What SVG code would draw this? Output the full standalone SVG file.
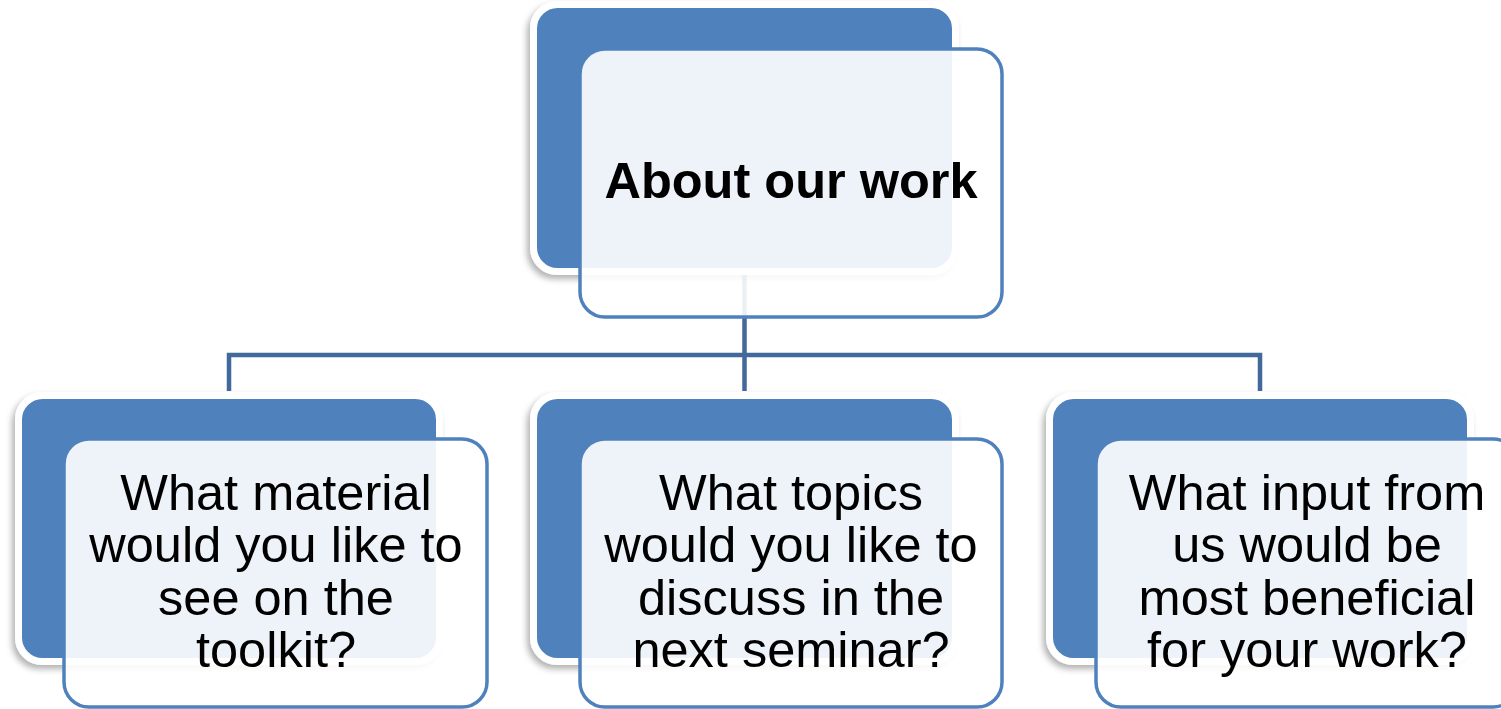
<svg xmlns="http://www.w3.org/2000/svg" width="1501" height="709" viewBox="0 0 1501 709">
  <defs>
    <filter id="sh" x="-10%" y="-10%" width="120%" height="125%">
      <feDropShadow dx="-3" dy="4" stdDeviation="3" flood-color="#000" flood-opacity="0.3"/>
    </filter>
    <style>
      .back{fill:#4F81BD;stroke:#FFFFFF;stroke-width:7;filter:url(#sh)}
      .front{fill:#FFFFFF;fill-opacity:0.9;stroke:#4F81BD;stroke-width:3.5}
      .conn{fill:none;stroke:#41699A;stroke-width:4.5}
      .t{font-family:"Liberation Sans",Arial,sans-serif;font-size:50.5px;fill:#000;text-anchor:middle}
      .tb{font-weight:bold}
    </style>
  </defs>
  <rect width="1501" height="709" fill="#FFFFFF"/>
  <g id="connectors">
    <path class="conn" d="M744.5 272 V357"/>
    <path class="conn" d="M229 391 V355 H1260 V391"/>
    <path class="conn" d="M744.5 355 V391"/>
  </g>
  <g id="node-top">
    <rect class="back" x="533.5" y="4.5" width="422" height="267" rx="24"/>
    <rect class="front" x="580" y="49" width="422" height="268" rx="25"/>
    <text class="t tb" x="791" y="198">About our work</text>
  </g>
  <g id="node-left">
    <rect class="back" x="18.5" y="395.5" width="421" height="266" rx="24"/>
    <rect class="front" x="64" y="439" width="423" height="268" rx="25"/>
    <text class="t"><tspan x="276" y="510">What material</tspan><tspan x="276" y="562">would you like to</tspan><tspan x="276" y="615">see on the</tspan><tspan x="276" y="667">toolkit?</tspan></text>
  </g>
  <g id="node-middle">
    <rect class="back" x="533.5" y="395.5" width="422" height="266" rx="24"/>
    <rect class="front" x="580" y="439" width="422" height="268" rx="25"/>
    <text class="t"><tspan x="791" y="510">What topics</tspan><tspan x="791" y="562">would you like to</tspan><tspan x="791" y="615">discuss in the</tspan><tspan x="791" y="667">next seminar?</tspan></text>
  </g>
  <g id="node-right">
    <rect class="back" x="1049.5" y="395.5" width="421" height="266" rx="24"/>
    <rect class="front" x="1096" y="439" width="422" height="268" rx="25"/>
    <text class="t"><tspan x="1307" y="510">What input from</tspan><tspan x="1307" y="562">us would be</tspan><tspan x="1307" y="615">most beneficial</tspan><tspan x="1307" y="667">for your work?</tspan></text>
  </g>
</svg>
